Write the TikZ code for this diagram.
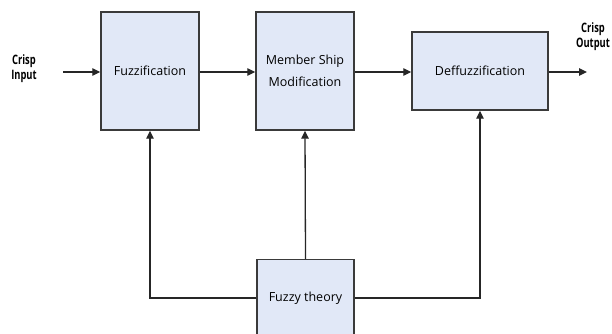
\documentclass[tikz,border=0pt]{standalone}
\usepackage{fontspec}
\setmainfont{Open Sans}
\usetikzlibrary{arrows.meta}
\definecolor{boxfill}{HTML}{E1E8F7}
\definecolor{boxline}{HTML}{3A3A3A}
\begin{document}
\begin{tikzpicture}[x=1pt,y=-1pt,
  blk/.style={draw=boxline,line width=1.4pt,fill=boxfill,inner sep=0pt,
    font=\fontsize{12.5}{22}\selectfont,align=center},
  conn/.style={draw=black!85,line width=1.3pt},
  arr/.style={conn,-{Triangle[length=8pt,width=7.5pt]}},
  lab/.style={font=\fontsize{13}{15}\bfseries\selectfont,align=center,inner sep=0pt}]
\clip (0,0) rectangle (612,333);
\node[blk,minimum width=98pt,minimum height=118pt] (fz) at (150,71) {Fuzzification};
\node[blk,minimum width=98pt,minimum height=118pt] (ms) at (305,71) {Member Ship\\Modification};
\node[blk,minimum width=136pt,minimum height=78pt] (df) at (480,71) {Deffuzzification};
\node[blk,minimum width=97pt,minimum height=80pt,anchor=north] (ft) at (305.5,259) {};
\node[font=\fontsize{12.5}{15}\selectfont,inner sep=0pt] (ftl) at (305.5,298) {Fuzzy theory};
\node[lab] (ci) at (24,69) {\scalebox{0.72}[1]{Crisp}\\\scalebox{0.72}[1]{Input}};
\node[lab] (co) at (593,37) {\scalebox{0.72}[1]{Crisp}\\\scalebox{0.72}[1]{Output}};
\coordinate (in) at (63,72);
\coordinate (out) at (587,72);
\draw[arr] (in) -- (fz.west |- in);
\draw[arr] (fz.east |- in) -- (ms.west |- in);
\draw[arr] (ms.east |- in) -- (df.west |- in);
\draw[arr] (df.east |- in) -- (out);
\draw[arr] (ft.west |- ftl) -| (fz.south);
\draw[arr] (ft.north) -- (ms.south);
\draw[arr] (ft.east |- ftl) -| (df.south);
\end{tikzpicture}
\end{document}
